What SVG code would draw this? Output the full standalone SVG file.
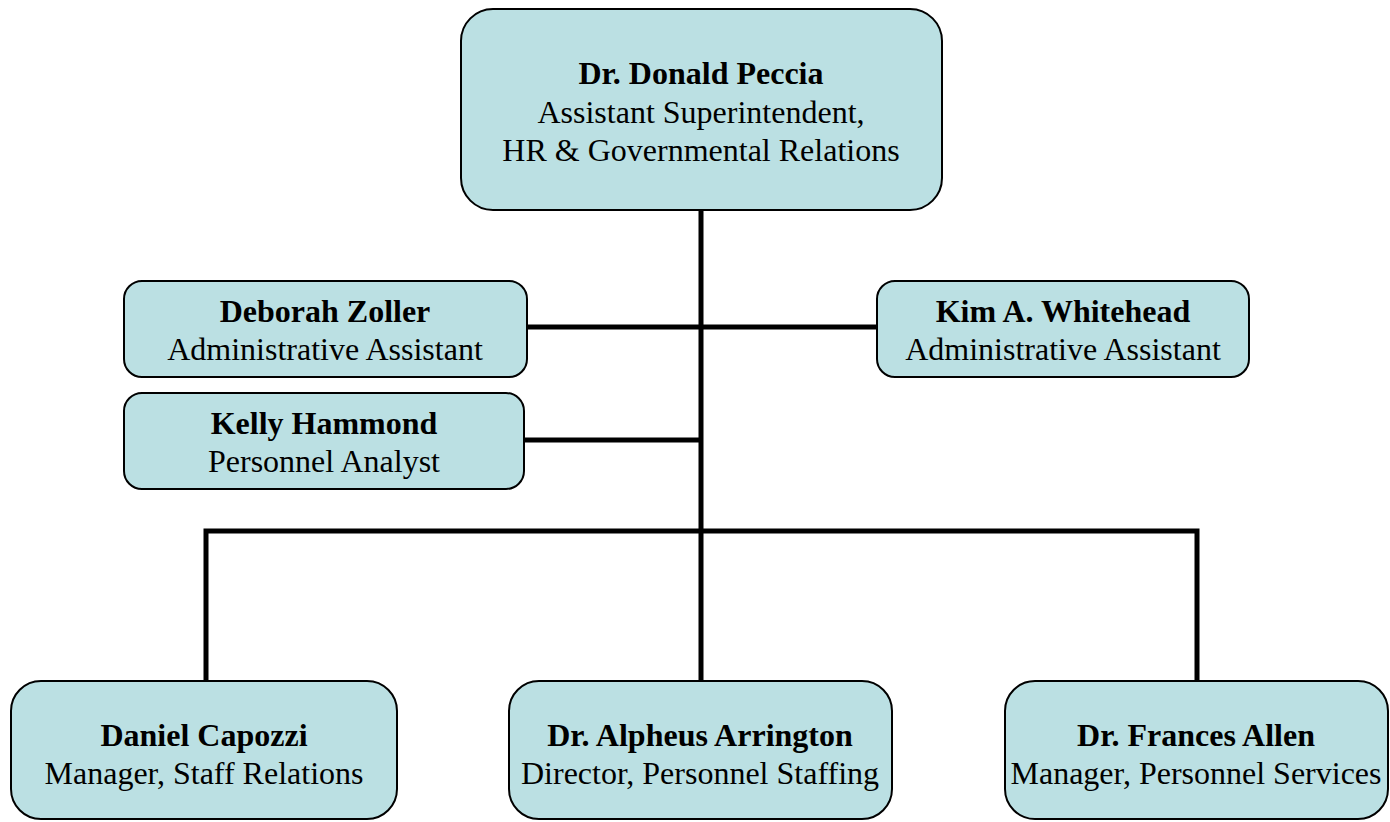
<svg xmlns="http://www.w3.org/2000/svg" width="1390" height="822" viewBox="0 0 1390 822">
<style>
.box{fill:#bbe0e3;stroke:#000;stroke-width:2}
.conn{stroke:#000;stroke-width:5;fill:none}
text{font-family:"Liberation Serif","Times New Roman","DejaVu Serif",serif;font-size:32px;fill:#000;text-anchor:middle}
.b{font-weight:bold}
</style>
<rect width="1390" height="822" fill="#fff"/>
<g id="connectors">
<line class="conn" x1="701" y1="210" x2="701" y2="681"/>
<line class="conn" x1="527" y1="327" x2="877" y2="327"/>
<line class="conn" x1="524" y1="440" x2="701" y2="440"/>
<polyline class="conn" points="206,681 206,531 1197,531 1197,681"/>
</g>
<g id="peccia">
<rect class="box" x="461" y="9" width="481" height="201" rx="32"/>
<text class="b" x="701" y="84">Dr. Donald Peccia</text>
<text x="701" y="123">Assistant Superintendent,</text>
<text x="701" y="161">HR &amp; Governmental Relations</text>
</g>
<g id="zoller">
<rect class="box" x="124" y="281" width="403" height="96" rx="18"/>
<text class="b" x="325" y="322">Deborah Zoller</text>
<text x="325" y="360">Administrative Assistant</text>
</g>
<g id="whitehead">
<rect class="box" x="877" y="281" width="372" height="96" rx="18"/>
<text class="b" x="1063" y="322">Kim A. Whitehead</text>
<text x="1063" y="360">Administrative Assistant</text>
</g>
<g id="hammond">
<rect class="box" x="124" y="393" width="400" height="96" rx="18"/>
<text class="b" x="324" y="434">Kelly Hammond</text>
<text x="324" y="472">Personnel Analyst</text>
</g>
<g id="capozzi">
<rect class="box" x="11" y="681" width="386" height="138" rx="30"/>
<text class="b" x="204" y="746">Daniel Capozzi</text>
<text x="204" y="784">Manager, Staff Relations</text>
</g>
<g id="arrington">
<rect class="box" x="509" y="681" width="383" height="138" rx="30"/>
<text class="b" x="700" y="746">Dr. Alpheus Arrington</text>
<text x="700" y="784">Director, Personnel Staffing</text>
</g>
<g id="allen">
<rect class="box" x="1005" y="681" width="383" height="138" rx="30"/>
<text class="b" x="1196" y="746">Dr. Frances Allen</text>
<text x="1196" y="784">Manager, Personnel Services</text>
</g>
</svg>
